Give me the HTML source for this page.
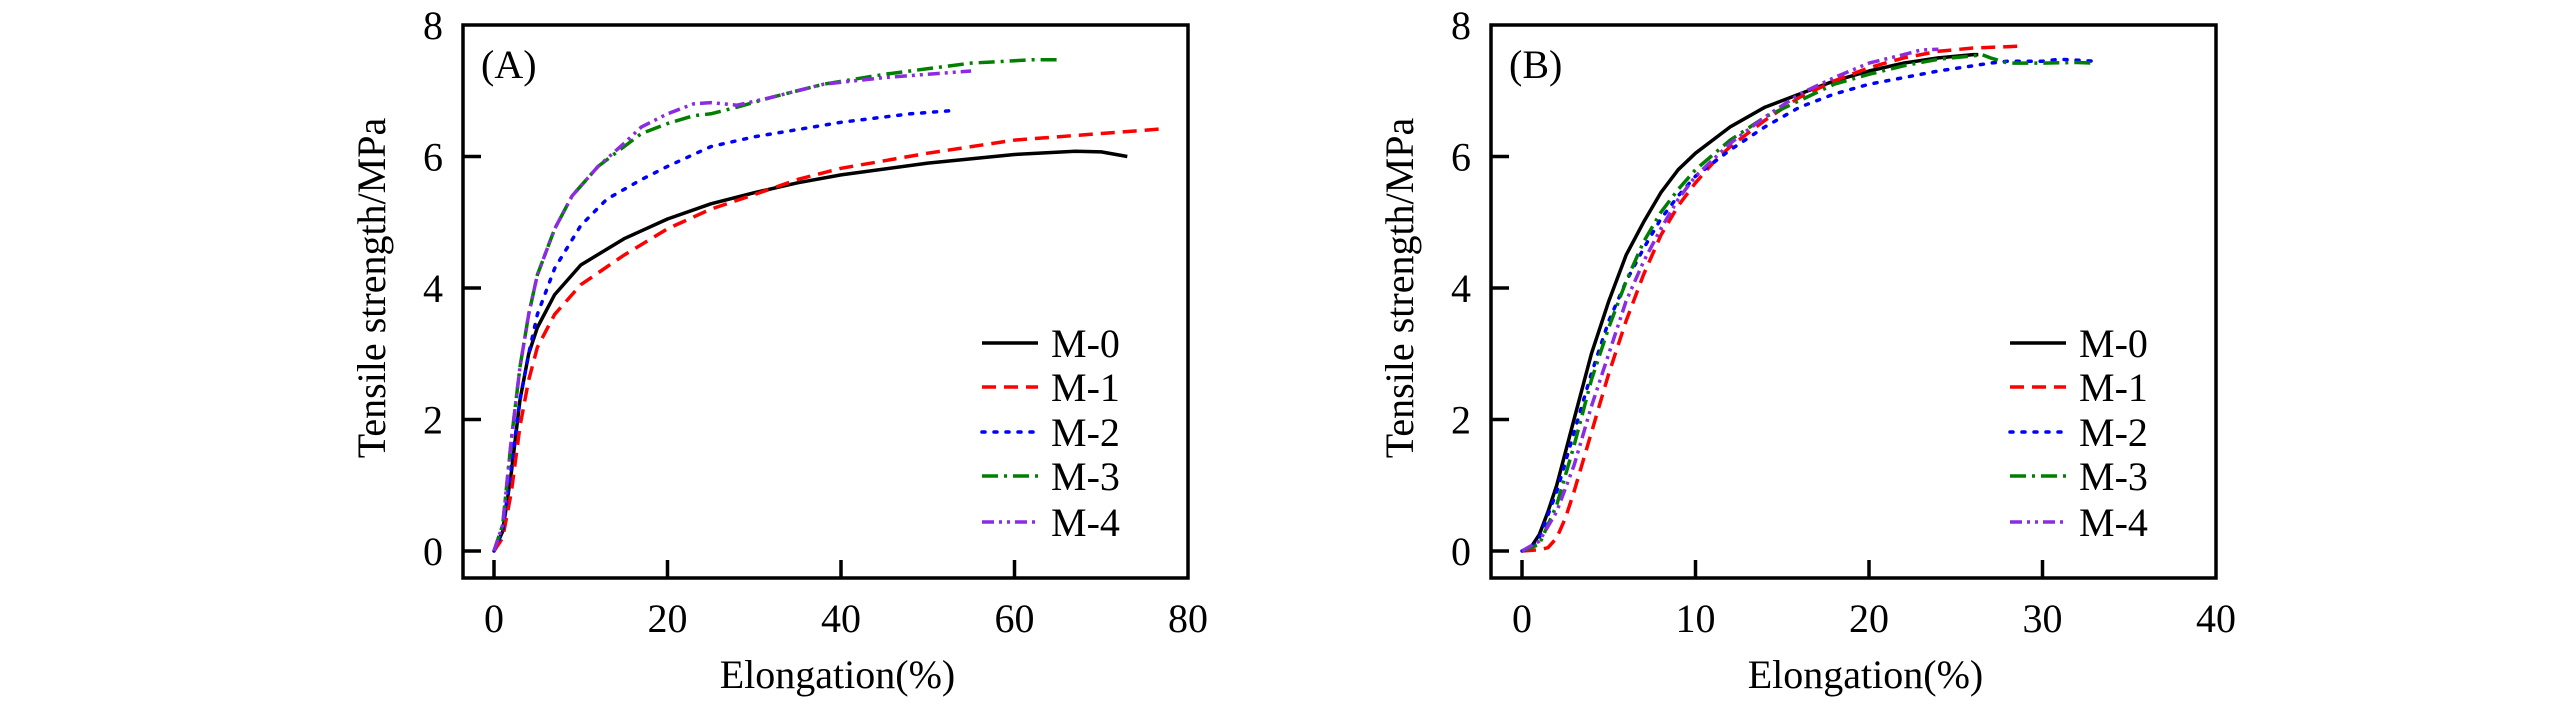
<!DOCTYPE html>
<html><head><meta charset="utf-8"><style>
html,body{margin:0;padding:0;background:#fff;}
svg{display:block;font-family:"Liberation Serif",serif;}
</style></head><body>
<svg id="fig" width="2567" height="709" viewBox="0 0 2567 709"></svg>
<script>
const seriesNames=["M-0","M-1","M-2","M-3","M-4"];
const xTicksA=[0,20,40,60,80];
const xTicksB=[0,10,20,30,40];
const yTicks=[0,2,4,6,8];
const a_m0=[[0,0],[1,0.3],[2,1.2],[3,2.3],[4,3.0],[5,3.4],[7,3.9],[10,4.35],[15,4.75],[20,5.05],[25,5.28],[30,5.45],[35,5.6],[40,5.72],[50,5.9],[60,6.03],[67,6.08],[70,6.07],[73,6.0]];
const a_m1=[[0,0],[1,0.2],[2,0.9],[3,1.9],[4,2.6],[5,3.1],[7,3.6],[10,4.05],[15,4.5],[20,4.9],[25,5.2],[30,5.42],[35,5.65],[40,5.82],[50,6.05],[60,6.25],[70,6.35],[77,6.42]];
const a_m2=[[0,0],[1,0.3],[2,1.3],[3,2.3],[4,3.0],[5,3.6],[7,4.3],[10,4.95],[13,5.35],[17,5.65],[20,5.85],[25,6.15],[30,6.3],[40,6.52],[48,6.65],[53,6.7]];
const a_m3=[[0,0],[1,0.4],[2,1.7],[3,2.8],[4,3.6],[5,4.2],[7,4.9],[9,5.4],[12,5.85],[15,6.15],[17,6.35],[20,6.5],[23,6.62],[25,6.65],[28,6.75],[32,6.9],[38,7.1],[45,7.25],[55,7.42],[62,7.47],[65,7.47]];
const a_m4=[[0,0],[1,0.4],[2,1.7],[3,2.8],[4,3.6],[5,4.2],[7,4.9],[9,5.4],[12,5.85],[15,6.2],[17,6.45],[20,6.65],[23,6.8],[25,6.82],[28,6.78],[32,6.9],[38,7.1],[45,7.2],[50,7.25],[55,7.3]];
const b_m0=[[0,0],[0.5,0.05],[1,0.25],[1.5,0.6],[2,1.0],[3,2.0],[4,3.0],[5,3.8],[6,4.5],[7,5.0],[8,5.45],[9,5.8],[10,6.05],[12,6.45],[14,6.75],[16,6.95],[18,7.15],[20,7.3],[22,7.42],[24,7.5],[26,7.55],[26.3,7.55]];
const b_m1=[[0,0],[1,0.02],[1.5,0.05],[2,0.2],[2.5,0.5],[3,0.9],[4,1.8],[5,2.7],[6,3.5],[7,4.2],[8,4.8],[9,5.25],[10,5.6],[11,5.9],[12,6.15],[14,6.55],[16,6.9],[18,7.15],[20,7.35],[22,7.5],[24,7.6],[26,7.65],[29,7.68]];
const b_m2=[[0,0],[0.5,0.03],[1,0.2],[2,0.9],[3,1.8],[4,2.7],[5,3.5],[6,4.1],[7,4.6],[8,5.05],[9,5.4],[10,5.7],[12,6.1],[14,6.45],[16,6.75],[18,6.95],[20,7.1],[22,7.2],[24,7.3],[26,7.38],[27,7.42],[28,7.45],[30,7.45],[31,7.48],[33,7.45]];
const b_m3=[[0,0],[1,0.1],[2,0.7],[3,1.6],[4,2.6],[5,3.4],[6,4.1],[7,4.7],[8,5.15],[9,5.5],[10,5.8],[12,6.25],[14,6.6],[16,6.85],[18,7.1],[20,7.25],[22,7.38],[24,7.48],[26,7.53],[26.5,7.55],[27,7.5],[28,7.42],[30,7.42],[32,7.43],[33,7.42]];
const b_m4=[[0,0],[1,0.15],[2,0.6],[3,1.3],[4,2.2],[5,3.0],[6,3.8],[7,4.4],[8,4.9],[9,5.35],[10,5.7],[12,6.2],[14,6.6],[16,6.95],[18,7.2],[20,7.42],[22,7.55],[23,7.62],[24,7.63]];

const colors=["#000000","#ff0000","#0000ff","#007f00","#8b2be2"];
const dashes=["none","14 8","3 9","16 6 3 6","12 5 3 5 3 5"];
const NS="http://www.w3.org/2000/svg";
const svg=document.getElementById('fig');
function mk(tag,attrs,parent,text){const e=document.createElementNS(NS,tag);for(const k in attrs)e.setAttribute(k,attrs[k]);if(text!==undefined)e.textContent=text;parent.appendChild(e);return e;}

function panel(id,letter,ox,xMax,xTicks,data){
  const L=ox, R=ox+725, T=25, B=578;
  const x0=ox+31, xEnd=R;
  const xs=v=>x0+(xEnd-x0)*v/xMax;
  const ys=v=>551-(551-25)*v/8;
  const g=mk('g',{},svg);
  
  
  const frame=mk('rect',{x:L,y:T,width:R-L,height:B-T,fill:'none',stroke:'#000','stroke-width':3.5},g);
  
  
  xTicks.forEach(t=>{
    const X=xs(t);
    if(t<xMax){const tk=mk('line',{x1:X,y1:B,x2:X,y2:B-18,stroke:'#000','stroke-width':3.5},g);
    
    }
    const tl=mk('text',{x:X,y:632,'font-size':40,'text-anchor':'middle'},g,String(t));
    
    
  });
  yTicks.forEach(t=>{
    const Y=ys(t);
    if(t<8){const tk=mk('line',{x1:L,y1:Y,x2:L+18,y2:Y,stroke:'#000','stroke-width':3.5},g);
    
    }
    const tl=mk('text',{x:L-20,y:Y+14,'font-size':40,'text-anchor':'end'},g,String(t));
    
    
  });
  const yl=mk('text',{x:0,y:0,'font-size':40,'text-anchor':'middle',transform:`translate(${L-78},288) rotate(-90)`},g,'Tensile strength/MPa');
  
  
  const xl=mk('text',{x:(L+R)/2+12,y:688,'font-size':40,'text-anchor':'middle'},g,'Elongation(%)');
  
  
  const pl=mk('text',{x:L+18,y:78,'font-size':40},g,letter);
  
  
  data.forEach((s,i)=>{
    const d=s.map((p,j)=>(j?'L':'M')+xs(p[0]).toFixed(1)+' '+ys(p[1]).toFixed(1)).join(' ');
    const path=mk('path',{d:d,fill:'none',stroke:colors[i],'stroke-width':3.5,'stroke-dasharray':dashes[i],'stroke-linecap':i==2?'round':'butt','stroke-linejoin':'round'},g);
    
    
  });
  const rows=[343,387,432,476,522];
  seriesNames.forEach((n,i)=>{
    const lg=mk('g',{},g);
    
    
    mk('line',{x1:L+519,y1:rows[i],x2:L+575,y2:rows[i],stroke:colors[i],'stroke-width':3.5,'stroke-dasharray':dashes[i],'stroke-linecap':i==2?'round':'butt'},lg);
    mk('text',{x:L+588,y:rows[i]+14,'font-size':40},lg,n);
  });
}
panel('a','(A)',463,80,xTicksA,[a_m0,a_m1,a_m2,a_m3,a_m4]);
panel('b','(B)',1491,40,xTicksB,[b_m0,b_m1,b_m2,b_m3,b_m4]);
</script>
</body></html>
